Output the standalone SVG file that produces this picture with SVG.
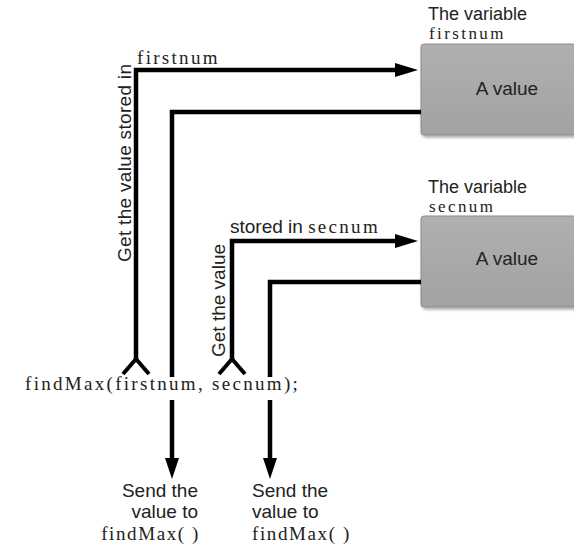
<svg xmlns="http://www.w3.org/2000/svg" width="574" height="549" viewBox="0 0 574 549">
<defs>
<linearGradient id="boxg" x1="0" y1="0" x2="0" y2="1">
<stop offset="0" stop-color="#b0b0b0"/>
<stop offset="1" stop-color="#a2a2a2"/>
</linearGradient>
<filter id="sh" x="-10%" y="-10%" width="130%" height="130%">
<feDropShadow dx="1.5" dy="2" stdDeviation="1.5" flood-color="#000" flood-opacity="0.35"/>
</filter>
</defs>
<style>
.sans{font-family:"Liberation Sans",Arial,sans-serif;font-size:19px;fill:#222}
.serif{font-family:"Liberation Serif","Times New Roman",serif;font-size:19px;fill:#222;letter-spacing:2.3px}
.hd{font-size:18px}
.sv{font-size:17px;letter-spacing:2.4px}
.box{fill:url(#boxg);stroke:#8c8c8c;stroke-width:1}
.ln{fill:none;stroke:#000;stroke-width:4.5;stroke-linejoin:miter;stroke-linecap:butt}
.fork{fill:none;stroke:#000;stroke-width:4;stroke-linejoin:miter}
.ah{fill:#000}
</style>
<rect width="574" height="549" fill="#fff"/>

<g id="var-firstnum">
<rect class="box" x="421" y="44" width="155" height="91" rx="3" filter="url(#sh)"/>
<text class="sans" x="507" y="95" text-anchor="middle">A value</text>
<text class="sans hd" x="428" y="20">The variable</text>
<text class="serif sv" x="429" y="39">firstnum</text>
</g>

<g id="var-secnum">
<rect class="box" x="421" y="216" width="155" height="91" rx="3" filter="url(#sh)"/>
<text class="sans" x="507" y="265" text-anchor="middle">A value</text>
<text class="sans hd" x="428" y="193">The variable</text>
<text class="serif sv" x="429" y="212">secnum</text>
</g>

<g id="call">
<text class="serif" x="25" y="390">findMax(firstnum, secnum);</text>
</g>

<g id="connectors">
<polyline class="ln" points="136,360 136,70 398,70"/>
<polygon class="ah" points="395,63 418,70 395,77"/>
<polyline class="fork" points="123,374 136,359 149,374"/>

<polyline class="ln" points="421,112 172,112 172,377"/>
<line class="ln" x1="172" y1="400" x2="172" y2="460"/>
<polygon class="ah" points="165,458 179,458 172,479"/>

<polyline class="ln" points="232,360 232,241 398,241"/>
<polygon class="ah" points="395,234 418,241 395,248"/>
<polyline class="fork" points="219,374 232,359 245,374"/>

<polyline class="ln" points="421,282 270,282 270,377"/>
<line class="ln" x1="270" y1="400" x2="270" y2="460"/>
<polygon class="ah" points="263,458 277,458 270,479"/>
</g>

<g id="labels">
<text class="serif" x="137" y="64">firstnum</text>
<text class="sans" transform="translate(131,262) rotate(-90)" textLength="198" lengthAdjust="spacing">Get the value stored in</text>
<text class="sans" x="230" y="233">stored in <tspan class="serif">secnum</tspan></text>
<text class="sans" transform="translate(225,357) rotate(-90)">Get the value</text>
</g>

<g id="send1">
<text class="sans" x="198" y="497" text-anchor="end">Send the</text>
<text class="sans" x="198" y="518" text-anchor="end">value to</text>
<text class="serif" x="200" y="540" text-anchor="end" style="letter-spacing:1.6px">findMax( )</text>
</g>

<g id="send2">
<text class="sans" x="252" y="497">Send the</text>
<text class="sans" x="252" y="518">value to</text>
<text class="serif" x="252" y="540" style="letter-spacing:1.6px">findMax( )</text>
</g>
</svg>
